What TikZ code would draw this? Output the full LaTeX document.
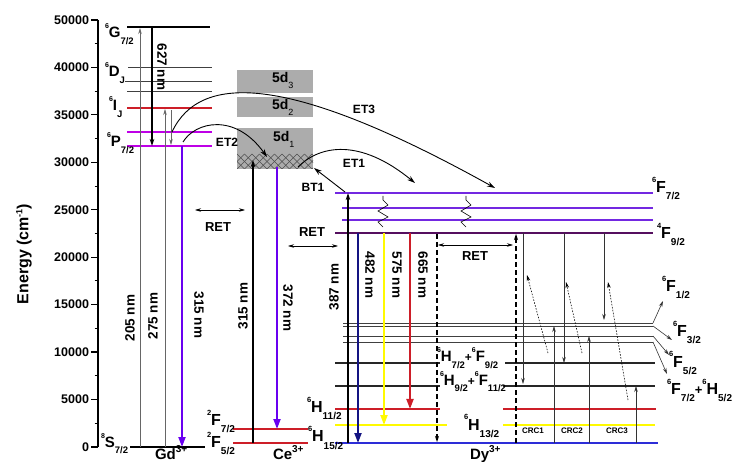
\documentclass[tikz,border=0pt]{standalone}
\usepackage{fontspec}
\setmainfont{Liberation Sans}
\usetikzlibrary{arrows.meta}
\definecolor{gdviolet}{RGB}{105,0,240}
\definecolor{pmag}{RGB}{190,0,230}
\definecolor{lred}{RGB}{205,30,40}
\definecolor{dyviol}{RGB}{115,40,225}
\definecolor{dypurp}{RGB}{85,15,95}
\definecolor{dyblue}{RGB}{45,45,215}
\definecolor{navyb}{RGB}{20,20,130}
\definecolor{yel}{RGB}{255,250,0}
\definecolor{boxgray}{RGB}{172,172,172}
\newcommand\tsym[3]{\raisebox{10pt}{\fontsize{7.5}{7.5}\selectfont#1}{\fontsize{16}{16}\selectfont#2}\raisebox{-7pt}{\fontsize{10}{10}\selectfont#3}}
\newcommand\tsymS[3]{\raisebox{9pt}{\fontsize{7}{7}\selectfont#1}{\fontsize{15}{15}\selectfont#2}\raisebox{-6.5pt}{\fontsize{9.5}{9.5}\selectfont#3}}
\newcommand\ionlbl[2]{{\fontsize{15}{15}\selectfont#1}\raisebox{7pt}{\fontsize{10}{10}\selectfont#2}}
\newcommand\dlbl[2]{{\fontsize{14}{14}\selectfont#1}\raisebox{-6pt}{\fontsize{9}{9}\selectfont\mdseries#2}}
\begin{document}
\begin{tikzpicture}[x=1pt,y=-1pt,
  every node/.style={inner sep=0pt,outer sep=0pt,font=\bfseries},
  ticklbl/.style={anchor=east,font=\bfseries\fontsize{12.5}{12.5}\selectfont},
  wavelbl/.style={font=\bfseries\fontsize{13.5}{13.5}\selectfont},
  etlbl/.style={font=\bfseries\fontsize{12}{12}\selectfont},
  retlbl/.style={font=\bfseries\fontsize{13}{13}\selectfont},
  crclbl/.style={font=\bfseries\fontsize{8}{8}\selectfont},
  termlbl/.style={anchor=base west},
  thinlvl/.style={line width=0.7pt,black!75},
  bigarrow/.style={line width=2pt,-{Triangle[length=10pt,width=7pt]}},
  blackarrow/.style={line width=1.1pt,-{Stealth[length=7pt,width=4.5pt]}},
  greyarrow/.style={line width=0.6pt,black!60,-{Stealth[length=6pt,width=3.5pt]}},
  thinarrow/.style={line width=0.6pt,black!80,-{Stealth[length=6pt,width=3.5pt]}},
  retarrow/.style={line width=0.6pt,{Stealth[length=6pt,width=3.5pt]}-{Stealth[length=6pt,width=3.5pt]}},
  dotarrow/.style={line width=0.6pt,dash pattern=on 1.5pt off 1.5pt,-{Stealth[length=6pt,width=3.5pt]}},
  dasharrow/.style={line width=1.1pt,dash pattern=on 5pt off 3pt,-{Stealth[length=6pt,width=4pt]}},
  curvearrow/.style={line width=0.9pt,-{Stealth[length=8pt,width=5pt]}}]
\useasboundingbox (0,0) rectangle (734,462);

% ---------- axis ----------
\draw[line width=1.5pt] (98,20) -- (98,447);
\foreach \k/\lab in {0/50000,1/40000,2/35000,3/30000,4/25000,5/20000,6/15000,7/10000,8/5000,9/0}{
  \draw[line width=1.2pt] (91,20+\k*47.44) -- (98,20+\k*47.44);
  \node[ticklbl] (tick\k) at (89,20+\k*47.44) {\lab};
}
\foreach \k in {0,...,8}{
  \draw[line width=1pt] (94.5,43.72+\k*47.44) -- (98,43.72+\k*47.44);
}
\node[rotate=90,font=\bfseries\fontsize{16}{16}\selectfont] (ylab) at (24,254) {Energy (cm\raisebox{6pt}{\fontsize{9}{9}\selectfont -1})};

% ---------- Ce 5d boxes ----------
\fill[boxgray] (237,70) rectangle (313,93);
\fill[boxgray] (237,97) rectangle (313,117);
\fill[boxgray] (237,128) rectangle (313,169);
\begin{scope}
  \clip (237,154) rectangle (313,169);
  \foreach \i in {-22.5,-15,...,90}{
    \draw[line width=0.5pt,black!70] (237+\i,169) -- ++(15,-15);
    \draw[line width=0.5pt,black!70] (237+\i,154) -- ++(15,15);
  }
\end{scope}
\node[termlbl] (d3) at (272,83) {\dlbl{5d}{3}};
\node[termlbl] (d2) at (272,110) {\dlbl{5d}{2}};
\node[termlbl] (d1) at (273,142) {\dlbl{5d}{1}};

% ---------- Gd levels ----------
\draw[line width=2pt] (127,27) -- (210,27);
\draw[thinlvl] (128,67) -- (212,67);
\draw[thinlvl] (125,81) -- (212,81);
\draw[thinlvl] (127,91) -- (212,91);
\draw[line width=1.6pt,lred] (127,108) -- (212,108);
\draw[line width=1.6pt,pmag] (127,132) -- (212,132);
\draw[line width=1.6pt,pmag] (127,146) -- (212,146);
\draw[line width=1.6pt] (130,447) -- (205,447);
\node[termlbl] (gG) at (105,38) {\tsymS{6}{G}{7/2}};
\node[termlbl] (gD) at (105,77) {\tsymS{6}{D}{J}};
\node[termlbl] (gI) at (109,111) {\tsymS{6}{I}{J}};
\node[termlbl] (gP) at (107,147) {\tsymS{6}{P}{7/2}};
\node[termlbl] (gS) at (101,447) {\tsymS{8}{S}{7/2}};
\node[termlbl] (gd) at (155,459) {\ionlbl{Gd}{3+}};

% Gd arrows
\coordinate (g205a) at (140,447); \coordinate (g205b) at (140,28);
\coordinate (g275a) at (165,447); \coordinate (g275b) at (165,109);
\coordinate (g627a) at (152,27);  \coordinate (g627b) at (152,146);
\coordinate (gIPa) at (171,110);  \coordinate (gIPb) at (171,145);
\coordinate (g315a) at (182,146); \coordinate (g315b) at (182,447);
\draw[greyarrow] (g205a) -- (g205b);
\draw[greyarrow] (g275a) -- (g275b);
\draw[blackarrow] (g627a) -- (g627b);
\draw[greyarrow] (gIPa) -- (gIPb);
\draw[bigarrow,gdviolet] (g315a) -- (g315b);
\node[wavelbl,rotate=90] (l205) at (130,318) {205 nm};
\node[wavelbl,rotate=90] (l275) at (153,316) {275 nm};
\node[wavelbl,rotate=-90] (l627) at (162,67) {627 nm};
\node[wavelbl,rotate=-90] (l315g) at (199,315) {315 nm};

% ---------- Ce levels ----------
\draw[line width=1.4pt,lred] (233,429) -- (308,429);
\draw[line width=1.4pt,lred] (233,443) -- (308,443);
\node[termlbl] (cF7) at (207,425) {\tsym{2}{F}{7/2}};
\node[termlbl] (cF5) at (207,447) {\tsym{2}{F}{5/2}};
\node[termlbl] (ce) at (273,459) {\ionlbl{Ce}{3+}};
\coordinate (c315a) at (253,443); \coordinate (c315b) at (253,160);
\coordinate (c372a) at (277,167); \coordinate (c372b) at (277,429);
\draw[blackarrow] (c315a) -- (c315b);
\draw[bigarrow,gdviolet] (c372a) -- (c372b);
\node[wavelbl,rotate=90] (l315c) at (243,306) {315 nm};
\node[wavelbl,rotate=-90] (l372) at (288,308) {372 nm};

% ---------- Dy levels ----------
\draw[line width=1.8pt,dyviol] (335,193) -- (653,193);
\draw[line width=1.6pt,dyviol] (342,208) -- (653,208);
\draw[line width=1.6pt,dyviol] (342,220) -- (653,220);
\draw[line width=2.6pt,dyviol!80] (335,233) -- (653,233);
\draw[line width=1.1pt,dypurp] (335,233) -- (653,233);
\draw[thinlvl] (343,323) -- (653,323);
\draw[thinlvl] (343,326) -- (653,326);
\draw[thinlvl] (343,336) -- (653,336);
\draw[thinlvl] (343,342) -- (653,342);
\draw[line width=1.5pt,black!85] (335,363) -- (440,363);
\draw[line width=1.5pt,black!85] (505,363) -- (655,363);
\draw[line width=1.5pt,black!85] (335,386) -- (440,386);
\draw[line width=1.5pt,black!85] (503,386) -- (655,386);
\draw[line width=1.5pt,lred] (335,409) -- (440,409);
\draw[line width=1.5pt,lred] (503,409) -- (656,409);
\draw[line width=1.6pt,yel] (335,425) -- (447,425);
\draw[line width=1.6pt,yel] (503,425) -- (655,425);
\draw[line width=1.6pt,dyblue] (335,443) -- (658,443);

% bending ends
\coordinate (bF1a) at (653,323); \coordinate (bF1b) at (663,301);
\coordinate (bF3a) at (653,326); \coordinate (bF3b) at (672,340);
\coordinate (bF5a) at (653,336); \coordinate (bF5b) at (669,355);
\coordinate (bF7a) at (653,342); \coordinate (bF7b) at (667,374);
\draw[thinarrow] (bF1a) -- (bF1b);
\draw[thinarrow] (bF3a) -- (bF3b);
\draw[thinarrow] (bF5a) -- (bF5b);
\draw[thinarrow] (bF7a) -- (bF7b);

% Dy labels
\node[termlbl] (dF7) at (652,193) {\tsym{6}{F}{7/2}};
\node[termlbl] (dF9) at (657,239) {\tsym{4}{F}{9/2}};
\node[termlbl] (dF1) at (662,292) {\tsym{6}{F}{1/2}};
\node[termlbl] (dF3) at (673,337) {\tsym{6}{F}{3/2}};
\node[termlbl] (dF5) at (669,367) {\tsym{6}{F}{5/2}};
\node[termlbl] (dF7H) at (667,395) {\tsym{6}{F}{7/2}{\fontsize{13}{13}\selectfont+}\tsym{6}{H}{5/2}};
\node[termlbl] (dH7) at (437,362) {\tsymS{6}{H}{7/2}{\fontsize{12}{12}\selectfont+}\tsymS{6}{F}{9/2}};
\node[termlbl] (dH9) at (440,385) {\tsymS{6}{H}{9/2}{\fontsize{12}{12}\selectfont+}\tsymS{6}{F}{11/2}};
\node[termlbl] (dH11) at (307,413) {\tsym{6}{H}{11/2}};
\node[termlbl] (dH13) at (464,430) {\tsym{6}{H}{13/2}};
\node[termlbl] (dH15) at (308,442) {\tsym{6}{H}{15/2}};
\node[termlbl] (dy) at (470,459) {\ionlbl{Dy}{3+}};

% Dy arrows
\coordinate (d387a) at (348,443); \coordinate (d387b) at (348,193);
\coordinate (d482a) at (358,233); \coordinate (d482b) at (358,443);
\coordinate (d575a) at (384,233); \coordinate (d575b) at (384,425);
\coordinate (d665a) at (410,233); \coordinate (d665b) at (410,409);
\draw[blackarrow] (d387a) -- (d387b);
\draw[bigarrow,navyb] (d482a) -- (d482b);
\draw[bigarrow,yel] (d575a) -- (d575b);
\draw[bigarrow,lred] (d665a) -- (d665b);
\node[wavelbl,rotate=90] (l387) at (334,287) {387 nm};
\node[wavelbl,rotate=-90] (l482) at (370,275) {482 nm};
\node[wavelbl,rotate=-90] (l575) at (397,275) {575 nm};
\node[wavelbl,rotate=-90] (l665) at (423,275) {665 nm};

% dashed
\coordinate (dsh1a) at (437,234); \coordinate (dsh1b) at (437,442);
\coordinate (dsh2a) at (516,443); \coordinate (dsh2b) at (516,234);
\draw[dasharrow] (dsh1a) -- (dsh1b);
\draw[dasharrow] (dsh2a) -- (dsh2b);

% zigzags
\draw[line width=0.6pt] (383,196) -- (383,200) -- (388,205) -- (378,211) -- (388,217) -- (378,222) -- (383,227);
\draw[line width=0.6pt] (466,196) -- (466,200) -- (471,205) -- (461,211) -- (471,217) -- (461,222) -- (466,227);

% RET arrows
\coordinate (r1a) at (195,210); \coordinate (r1b) at (245,210);
\coordinate (r2a) at (288,246); \coordinate (r2b) at (338,246);
\coordinate (r3a) at (438,245); \coordinate (r3b) at (513,245);
\draw[retarrow] (r1a) -- (r1b);
\draw[retarrow] (r2a) -- (r2b);
\draw[retarrow] (r3a) -- (r3b);
\node[retlbl] (ret1) at (218,227) {RET};
\node[retlbl] (ret2) at (312,232) {RET};
\node[retlbl] (ret3) at (475,256) {RET};

% energy transfer curves
\coordinate (et3a) at (172,132); \coordinate (et3b) at (495,188);
\coordinate (et2a) at (183,142); \coordinate (et2b) at (267,157);
\coordinate (et1a) at (298,167); \coordinate (et1b) at (415,183);
\coordinate (bt1a) at (345,192); \coordinate (bt1b) at (314,168);
\draw[curvearrow] (et3a) .. controls (200,72) and (290,74) .. (et3b);
\draw[curvearrow] (et2a) .. controls (195,122) and (235,112) .. (et2b);
\draw[curvearrow] (et1a) .. controls (320,145) and (360,138) .. (et1b);
\draw[curvearrow] (bt1a) -- (bt1b);
\node[etlbl] (let3) at (364,109) {ET3};
\node[etlbl] (let2) at (227,142) {ET2};
\node[etlbl] (let1) at (354,163) {ET1};
\node[etlbl] (lbt1) at (313,187) {BT1};

% cross relaxation
\coordinate (c1da) at (523,233); \coordinate (c1db) at (523,384);
\coordinate (c1ua) at (554,443); \coordinate (c1ub) at (554,326);
\coordinate (c1ta) at (548,353); \coordinate (c1tb) at (527,275);
\coordinate (c2da) at (564,233); \coordinate (c2db) at (564,363);
\coordinate (c2ua) at (589,443); \coordinate (c2ub) at (589,336);
\coordinate (c2ta) at (582,353); \coordinate (c2tb) at (566,282);
\coordinate (c3da) at (604,233); \coordinate (c3db) at (604,320);
\coordinate (c3ua) at (636,443); \coordinate (c3ub) at (636,386);
\coordinate (c3ta) at (628,400); \coordinate (c3tb) at (608,282);
\draw[thinarrow] (c1da) -- (c1db);
\draw[thinarrow] (c1ua) -- (c1ub);
\draw[dotarrow] (c1ta) -- (c1tb);
\draw[thinarrow] (c2da) -- (c2db);
\draw[thinarrow] (c2ua) -- (c2ub);
\draw[dotarrow] (c2ta) -- (c2tb);
\draw[thinarrow] (c3da) -- (c3db);
\draw[thinarrow] (c3ua) -- (c3ub);
\draw[dotarrow] (c3ta) -- (c3tb);
\node[crclbl] (crc1) at (533,431) {CRC1};
\node[crclbl] (crc2) at (572,431) {CRC2};
\node[crclbl] (crc3) at (617,431) {CRC3};
\end{tikzpicture}
\end{document}
